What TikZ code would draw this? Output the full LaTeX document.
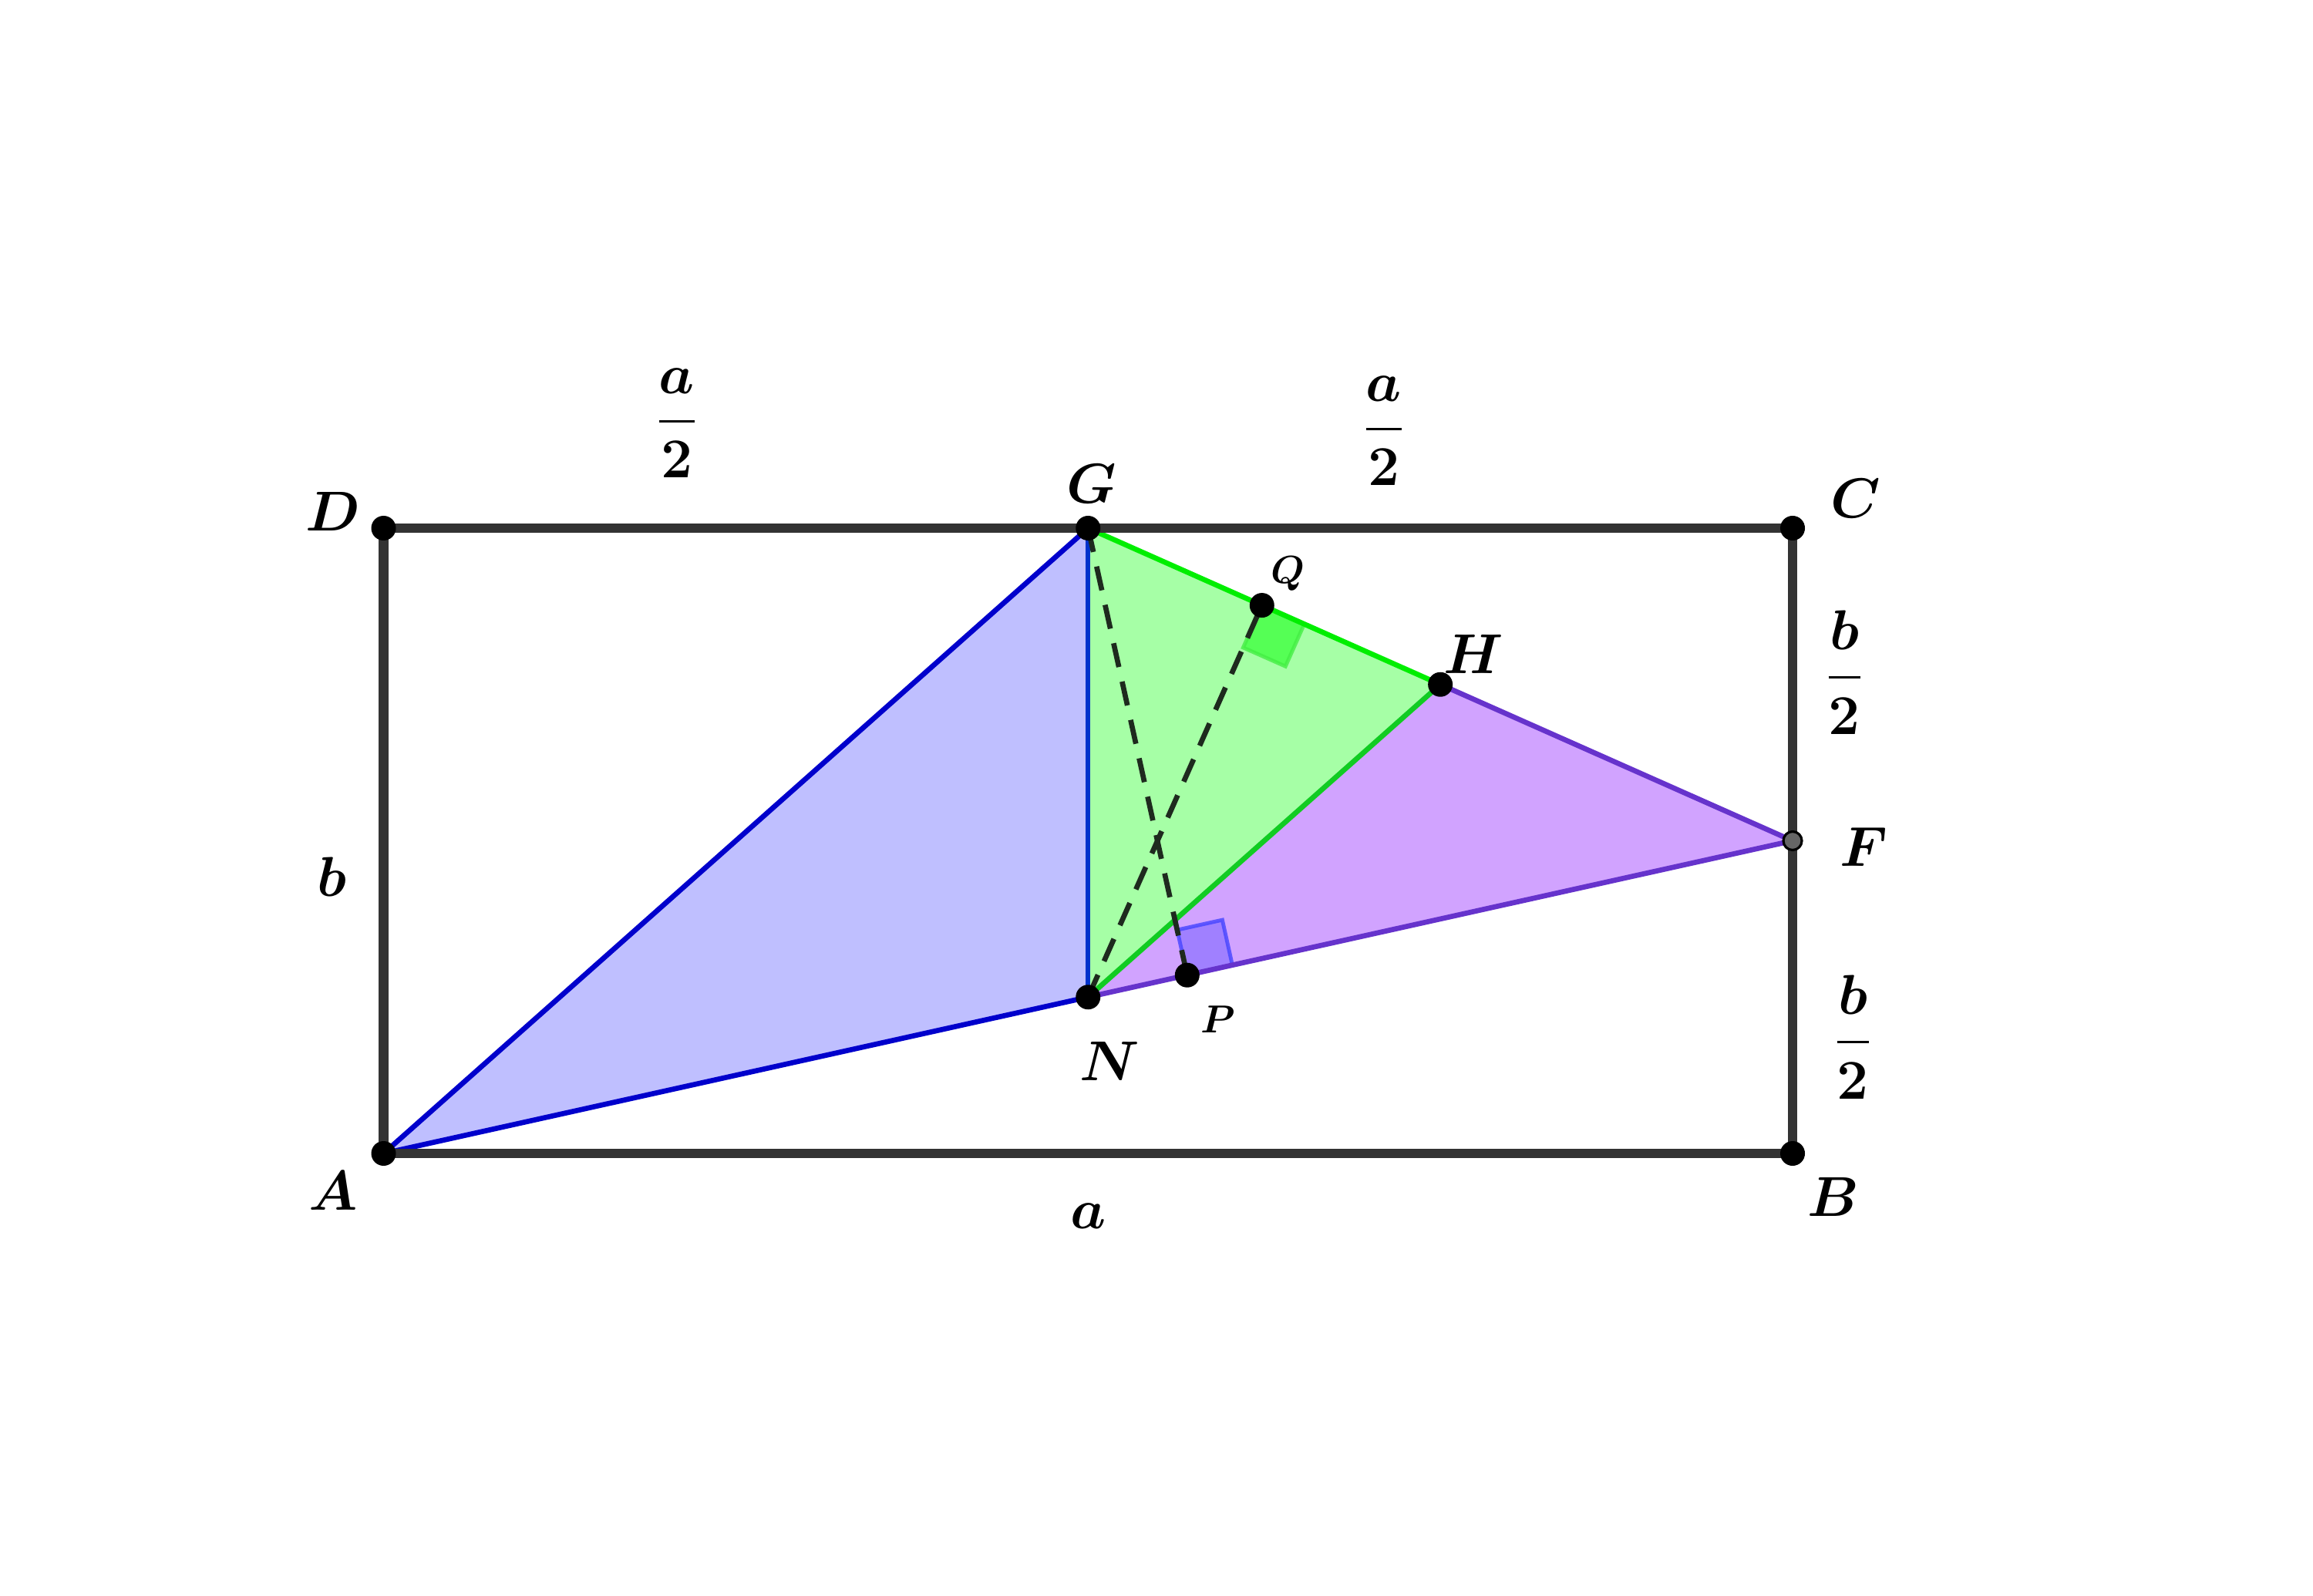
\documentclass[tikz,border=0pt]{standalone}
\usepackage{amsmath,bm}
\usetikzlibrary{calc}
\definecolor{rectc}{HTML}{333333}
\definecolor{bluefillc}{HTML}{BFBFFF}
\definecolor{greenfillc}{HTML}{A6FFA6}
\definecolor{purplefillc}{HTML}{D1A3FF}
\definecolor{blueedgec}{HTML}{0000CC}
\definecolor{blueedgeb}{HTML}{0033CC}
\definecolor{greenedgec}{HTML}{00EE00}
\definecolor{greenedgeb}{HTML}{11CC22}
\definecolor{purpleedgec}{HTML}{6633CC}
\definecolor{rapfill}{HTML}{A080FF}
\definecolor{rapedge}{HTML}{4444FF}
\definecolor{raqfill}{HTML}{55FF55}
\definecolor{raqedge}{HTML}{44EE44}
\definecolor{dashc}{HTML}{1E2A1E}
\definecolor{fptc}{HTML}{666666}
\tikzset{
  rectline/.style={draw=rectc, line width=3.6pt},
  blueline/.style={draw=blueedgec, line width=1.9pt},
  bluelineb/.style={draw=blueedgeb, line width=1.7pt},
  greenline/.style={draw=greenedgec, line width=1.9pt},
  greenlineb/.style={draw=greenedgeb, line width=1.9pt},
  purpleline/.style={draw=purpleedgec, line width=1.9pt},
  dashline/.style={draw=dashc, line width=1.9pt, dash pattern=on 9pt off 5.5pt},
  ptdot/.style={circle, fill=black, inner sep=0pt, minimum size=0.32cm},
  fdot/.style={circle, fill=fptc, draw=black, line width=0.9pt, inner sep=0pt, minimum size=0.24cm},
  lbl/.style={font=\fontsize{20}{24}\selectfont\boldmath, inner sep=1pt},
  slbl/.style={font=\fontsize{15}{18}\selectfont\boldmath, inner sep=1pt},
  frlbl/.style={font=\fontsize{21}{25}\selectfont\boldmath, inner sep=1pt},
}
\begin{document}
\begin{tikzpicture}[x=1cm,y=1cm]
\useasboundingbox (0,0) rectangle (30,20.69);
\coordinate (A) at (4.975,5.73);
\coordinate (B) at (23.25,5.73);
\coordinate (C) at (23.25,13.84);
\coordinate (D) at (4.975,13.84);
\coordinate (G) at ($(D)!0.5!(C)$);
\coordinate (F) at ($(B)!0.5!(C)$);
\coordinate (H) at ($(G)!0.5!(F)$);
\coordinate (N) at ($(A)!0.5!(F)$);
\coordinate (P) at ($(A)!(G)!(F)$);
\coordinate (Q) at ($(G)!(N)!(F)$);
% fills
\fill[bluefillc] (A)--(G)--(N)--cycle;
\fill[greenfillc] (G)--(H)--(N)--cycle;
\fill[purplefillc] (N)--(H)--(F)--cycle;
% right angle marks
\coordinate (P1) at ($(P)!0.6cm!(F)$);
\coordinate (P3) at ($(P)!0.6cm!(G)$);
\coordinate (P2) at ($(P1)+(P3)-(P)$);
\filldraw[fill=rapfill, draw=rapedge, line width=1.4pt, draw opacity=0.8] (P)--(P1)--(P2)--(P3)--cycle;
\coordinate (Q1) at ($(Q)!0.6cm!(H)$);
\coordinate (Q3) at ($(Q)!0.6cm!(N)$);
\coordinate (Q2) at ($(Q1)+(Q3)-(Q)$);
\filldraw[fill=raqfill, draw=raqedge, line width=1.4pt, draw opacity=0.8] (Q)--(Q1)--(Q2)--(Q3)--cycle;
% edges
\draw[purpleline] (H)--(F)--(N);
\draw[greenline] (G)--(H);
\draw[greenlineb] (N)--(H);
\draw[blueline] (N)--(A)--(G);
\draw[bluelineb] (G)--(N);
% dashed
\draw[dashline] (G)--(P);
\draw[dashline] (N)--(Q);
% rectangle
\draw[rectline] (A)--(B)--(C)--(D)--cycle;
% points
\node[ptdot] (dA) at (A) {};
\node[ptdot] (dB) at (B) {};
\node[ptdot] (dC) at (C) {};
\node[ptdot] (dD) at (D) {};
\node[ptdot] (dG) at (G) {};
\node[ptdot] (dH) at (H) {};
\node[ptdot] (dN) at (N) {};
\node[ptdot] (dP) at (P) {};
\node[ptdot] (dQ) at (Q) {};
\node[fdot] (dF) at (F) {};
% labels
\node[lbl] (lA) at (4.32,5.25) {$A$};
\node[lbl] (lB) at (23.78,5.17) {$B$};
\node[lbl] (lC) at (24.07,14.22) {$C$};
\node[lbl] (lD) at (4.32,14.05) {$D$};
\node[lbl] (lG) at (14.16,14.41) {$G$};
\node[lbl] (lH) at (19.11,12.21) {$H$};
\node[lbl] (lF) at (24.17,9.71) {$F$};
\node[lbl] (lN) at (14.39,6.93) {$N$};
\node[slbl] (lP) at (15.80,7.47) {$P$};
\node[slbl] (lQ) at (16.70,13.25) {$Q$};
\node[frlbl] (fa1) at (8.78,15.20) {$\dfrac{a}{2}$};
\node[frlbl] (fa2) at (17.95,15.10) {$\dfrac{a}{2}$};
\node[frlbl] (fb1) at (23.92,11.97) {$\dfrac{b}{2}$};
\node[frlbl] (fb2) at (24.03,7.24) {$\dfrac{b}{2}$};
\node[lbl] (lb) at (4.30,9.32) {$b$};
\node[lbl] (la) at (14.12,4.92) {$a$};
\end{tikzpicture}
\end{document}
